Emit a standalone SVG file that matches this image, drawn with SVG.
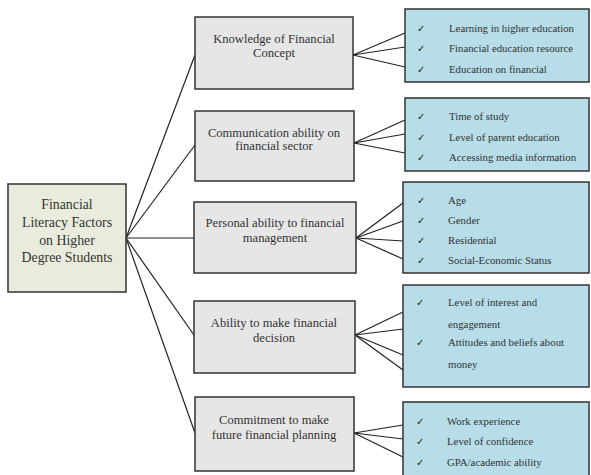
<svg xmlns="http://www.w3.org/2000/svg" width="591" height="475" viewBox="0 0 591 475">
<style>
.root{fill:#e9ecdc;stroke:#333;stroke-width:1.5}
.mid{fill:#e6e6e6;stroke:#333;stroke-width:1.5}
.leaf{fill:#b7dde8;stroke:#333;stroke-width:1.5}
.conn line{stroke:#222;stroke-width:1.2}
text{font-family:"Liberation Serif","Times New Roman",serif;fill:#333}
.rt{font-size:13.8px;text-anchor:middle}
.mt{font-size:12.6px;text-anchor:middle}
.lt{font-size:10.8px}
.ck{font-family:"DejaVu Sans",sans-serif;font-size:10px;fill:#222}
</style>
<rect width="591" height="475" fill="#fff"/>
<g id="connectors" class="conn">
<line x1="126" y1="238" x2="195" y2="55"/>
<line x1="126" y1="238" x2="195" y2="145"/>
<line x1="126" y1="238" x2="194" y2="238"/>
<line x1="126" y1="238" x2="194" y2="335"/>
<line x1="126" y1="238" x2="195" y2="433"/>
<line x1="353" y1="55" x2="405" y2="33"/>
<line x1="353" y1="55" x2="405" y2="47"/>
<line x1="353" y1="55" x2="405" y2="67"/>
<line x1="354" y1="143" x2="405" y2="120"/>
<line x1="354" y1="143" x2="405" y2="134"/>
<line x1="354" y1="143" x2="405" y2="153"/>
<line x1="356" y1="238" x2="403" y2="203"/>
<line x1="356" y1="238" x2="403" y2="221"/>
<line x1="356" y1="238" x2="403" y2="241"/>
<line x1="356" y1="238" x2="403" y2="259"/>
<line x1="355" y1="335" x2="403" y2="312"/>
<line x1="355" y1="335" x2="403" y2="329"/>
<line x1="355" y1="335" x2="403" y2="355"/>
<line x1="355" y1="335" x2="403" y2="370"/>
<line x1="354" y1="433" x2="403" y2="425"/>
<line x1="354" y1="433" x2="403" y2="439"/>
<line x1="354" y1="433" x2="403" y2="457"/>
</g>
<g id="root">
<rect class="root" x="8" y="184" width="118" height="108"/>
<text class="rt" x="67" y="209">Financial</text>
<text class="rt" x="67" y="227">Literacy Factors</text>
<text class="rt" x="67" y="245">on Higher</text>
<text class="rt" x="67" y="262">Degree Students</text>
</g>
<g id="n1">
<rect class="mid" x="195" y="17" width="158" height="72"/>
<text class="mt" x="274" y="43">Knowledge of Financial</text>
<text class="mt" x="274" y="57">Concept</text>
</g>
<g id="n2">
<rect class="mid" x="195" y="111" width="159" height="70"/>
<text class="mt" x="274" y="137">Communication ability on</text>
<text class="mt" x="274" y="150">financial sector</text>
</g>
<g id="n3">
<rect class="mid" x="194" y="202" width="162" height="71"/>
<text class="mt" x="275" y="227">Personal ability to financial</text>
<text class="mt" x="275" y="242">management</text>
</g>
<g id="n4">
<rect class="mid" x="194" y="301" width="161" height="72"/>
<text class="mt" x="274" y="327">Ability to make financial</text>
<text class="mt" x="274" y="342">decision</text>
</g>
<g id="n5">
<rect class="mid" x="195" y="397" width="159" height="74"/>
<text class="mt" x="274" y="424">Commitment to make</text>
<text class="mt" x="274" y="439">future financial planning</text>
</g>
<g id="l1">
<rect class="leaf" x="405" y="9" width="184" height="73"/>
<text class="ck" x="417" y="32">✓</text><text class="lt" x="449" y="32">Learning in higher education</text>
<text class="ck" x="417" y="52">✓</text><text class="lt" x="449" y="52">Financial education resource</text>
<text class="ck" x="417" y="73">✓</text><text class="lt" x="449" y="73">Education on financial</text>
</g>
<g id="l2">
<rect class="leaf" x="405" y="98" width="184" height="73"/>
<text class="ck" x="417" y="120">✓</text><text class="lt" x="449" y="120">Time of study</text>
<text class="ck" x="417" y="141">✓</text><text class="lt" x="449" y="141">Level of parent education</text>
<text class="ck" x="417" y="161">✓</text><text class="lt" x="449" y="161">Accessing media information</text>
</g>
<g id="l3">
<rect class="leaf" x="403" y="182" width="186" height="91"/>
<text class="ck" x="417" y="204">✓</text><text class="lt" x="448" y="204">Age</text>
<text class="ck" x="417" y="224">✓</text><text class="lt" x="448" y="224">Gender</text>
<text class="ck" x="417" y="244">✓</text><text class="lt" x="448" y="244">Residential</text>
<text class="ck" x="417" y="264">✓</text><text class="lt" x="448" y="264">Social-Economic Status</text>
</g>
<g id="l4">
<rect class="leaf" x="403" y="285" width="186" height="102"/>
<text class="ck" x="416" y="306">✓</text><text class="lt" x="448" y="306">Level of interest and</text>
<text class="lt" x="448" y="328">engagement</text>
<text class="ck" x="416" y="346">✓</text><text class="lt" x="448" y="346">Attitudes and beliefs about</text>
<text class="lt" x="448" y="368">money</text>
</g>
<g id="l5">
<rect class="leaf" x="403" y="402" width="186" height="80"/>
<text class="ck" x="416" y="425">✓</text><text class="lt" x="447" y="425">Work experience</text>
<text class="ck" x="416" y="445">✓</text><text class="lt" x="447" y="445">Level of confidence</text>
<text class="ck" x="416" y="466">✓</text><text class="lt" x="447" y="466">GPA/academic ability</text>
</g>
</svg>
